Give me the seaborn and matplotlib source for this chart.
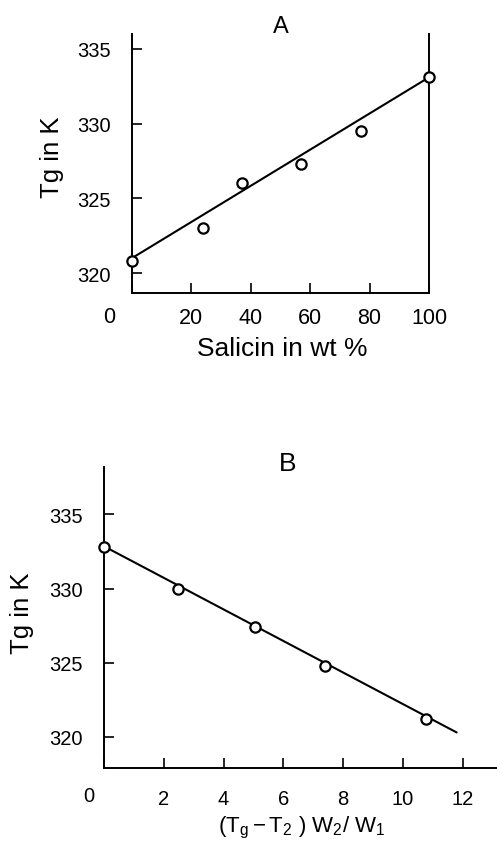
import matplotlib
matplotlib.use('Agg')
import matplotlib.pyplot as plt
import seaborn as sns
import pandas as pd

# panel A: Tg vs salicin content
salicin_wt = [0, 24, 37, 57, 77, 100]
tg_a = [320.8, 323.0, 326.0, 327.3, 329.5, 333.1]
fit_a_x = [0, 100]
fit_a_y = [321.0, 333.1]
xticks_a = [0, 20, 40, 60, 80, 100]

# panel B: Tg vs (Tg - T2) W2/W1
gt_x = [0, 2.47, 5.04, 7.41, 10.77]
tg_b = [332.8, 330.0, 327.4, 324.8, 321.2]
fit_b_x = [0, 11.8]
fit_b_y = [332.85, 320.3]
xticks_b = [0, 2, 4, 6, 8, 10, 12]

yticks = [320, 325, 330, 335]

sns.set_style('ticks', {'axes.edgecolor': 'black', 'text.color': 'black',
                        'axes.labelcolor': 'black', 'xtick.color': 'black',
                        'ytick.color': 'black'})
plt.rcParams['font.family'] = ['Liberation Sans', 'DejaVu Sans']
plt.rcParams['mathtext.fontset'] = 'custom'
plt.rcParams['mathtext.rm'] = 'Liberation Sans'
plt.rcParams['mathtext.it'] = 'Liberation Sans'

df_a = pd.DataFrame({'x': salicin_wt, 'y': tg_a})
df_b = pd.DataFrame({'x': gt_x, 'y': tg_b})

fig = plt.figure(figsize=(4.97, 8.45), dpi=100)
ax_a = fig.add_axes([0.2656, 0.652, 0.5976, 0.3066])
ax_b = fig.add_axes([0.2093, 0.0899, 0.7907, 0.3563])

line_kw = dict(color='black', linewidth=1.5)
pt_kw = dict(s=55, facecolor='white', edgecolor='black', linewidth=1.6,
             zorder=5, clip_on=False)

# ---- A
sns.lineplot(x=fit_a_x, y=fit_a_y, ax=ax_a, **line_kw)
sns.scatterplot(data=df_a, x='x', y='y', ax=ax_a, **pt_kw)
ax_a.set_xlim(0, 100)
ax_a.set_ylim(318.66, 336.0)
ax_a.spines['top'].set_visible(False)
ax_a.spines['right'].set_visible(True)
ax_a.set_xticks(xticks_a)
ax_a.set_xticklabels(['' if t == 0 else str(t) for t in xticks_a])
ax_a.set_yticks(yticks)
ax_a.tick_params(axis='y', direction='in', length=7, width=1.2, pad=15.5, labelsize=14.5)
ax_a.tick_params(axis='x', direction='in', length=7, width=1.2, pad=10, labelsize=15.5)
ax_a.annotate('0', xy=(0, 0), xycoords=('data', 'axes fraction'),
              xytext=(-16.3, -16.8), textcoords='offset points',
              ha='center', va='center', fontsize=15.5)
ax_a.set_xlabel('Salicin in wt %', fontsize=19)
ax_a.set_ylabel('Tg in K', fontsize=18.5)
ax_a.xaxis.set_label_coords(0.505, -0.212)
ax_a.xaxis.label.set_va('center')
ax_a.yaxis.set_label_coords(-0.27, 0.527)
ax_a.yaxis.label.set_va('center')
ax_a.text(0.5, 1.03, 'A', transform=ax_a.transAxes, ha='center', va='center', fontsize=17)

# ---- B
sns.lineplot(x=fit_b_x, y=fit_b_y, ax=ax_b, **line_kw)
sns.scatterplot(data=df_b, x='x', y='y', ax=ax_b, **pt_kw)
ax_b.set_xlim(0, 13.15)
ax_b.set_ylim(317.9, 338.2)
sns.despine(ax=ax_b)
ax_b.set_xticks(xticks_b)
ax_b.set_xticklabels(['' if t == 0 else str(t) for t in xticks_b])
ax_b.set_yticks(yticks)
ax_b.tick_params(axis='y', direction='in', length=7, width=1.2, pad=15.5, labelsize=14.5)
ax_b.tick_params(axis='x', direction='in', length=7, width=1.2, pad=15, labelsize=14.5)
ax_b.annotate('0', xy=(0, 0), xycoords=('data', 'axes fraction'),
              xytext=(-11, -20), textcoords='offset points',
              ha='center', va='center', fontsize=14.5)
ax_b.set_xlabel(r'$\mathrm{(T_g - T_2\ )\ W_2/\ W_1}$', fontsize=16)
ax_b.set_ylabel('Tg in K', fontsize=18.5)
ax_b.xaxis.set_label_coords(0.504, -0.196)
ax_b.xaxis.label.set_va('center')
ax_b.yaxis.set_label_coords(-0.209, 0.518)
ax_b.yaxis.label.set_va('center')
ax_b.text(0.466, 1.013, 'B', transform=ax_b.transAxes, ha='center', va='center', fontsize=19)

for ax in (ax_a, ax_b):
    for sp in ax.spines.values():
        sp.set_linewidth(1.4)

fig.savefig('out.png', dpi=100)
